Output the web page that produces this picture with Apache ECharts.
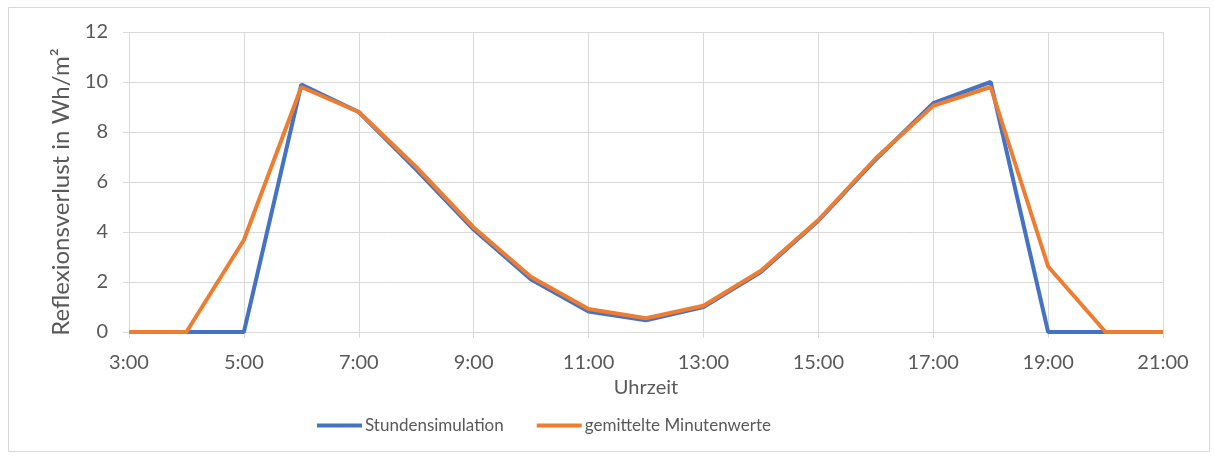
<!DOCTYPE html>
<html><head><meta charset="utf-8">
<script src="https://cdn.jsdelivr.net/npm/echarts@6/dist/echarts.min.js"></script>
<style>html,body{margin:0;padding:0;background:#fff}#c{width:1214px;height:457px}</style>
</head><body><div id="c"></div>
<script>
const hours = ['3:00','4:00','5:00','6:00','7:00','8:00','9:00','10:00','11:00','12:00','13:00','14:00','15:00','16:00','17:00','18:00','19:00','20:00','21:00'];
const stundensimulation = [0,0,0,9.9,8.8,6.5,4.1,2.1,0.82,0.47,1.0,2.4,4.45,6.9,9.15,10.0,0,0,0];
const minutenwerte = [0,0,3.68,9.8,8.8,6.6,4.18,2.2,0.92,0.55,1.05,2.45,4.48,6.95,9.05,9.8,2.62,0,0];
const yTicks = [0,2,4,6,8,10,12];

const font = 'Lato, "Open Sans", sans-serif';
const chart = echarts.init(document.getElementById('c'), null, {renderer:'canvas'});
chart.setOption({
  animation:false,
  backgroundColor:'#fff',
  graphic:[{type:'rect',shape:{x:8.5,y:7.5,width:1201,height:444},style:{fill:'none',stroke:'#d9d9d9',lineWidth:1},silent:true}],
  grid:{left:129,right:51,top:32,bottom:125,containLabel:false},
  legend:{
    top:412,left:312,itemWidth:45,itemHeight:4,itemGap:33,
    icon:'rect',
    textStyle:{fontFamily:font,fontSize:17,color:'#595959',padding:[0,0,0,-2]},
    data:['Stundensimulation','gemittelte Minutenwerte']
  },
  xAxis:{
    type:'category',data:hours,boundaryGap:false,
    name:'Uhrzeit',nameLocation:'middle',nameGap:40,
    nameTextStyle:{fontFamily:font,fontSize:20,color:'#595959'},
    axisLine:{lineStyle:{color:'#d9d9d9',width:1}},
    axisTick:{show:true,interval:1,length:6,lineStyle:{color:'#d9d9d9'}},
    axisLabel:{interval:1,fontFamily:font,fontSize:20,color:'#595959',margin:21},
    splitLine:{show:true,interval:1,lineStyle:{color:'#d9d9d9',width:1}}
  },
  yAxis:{
    type:'value',min:yTicks[0],max:yTicks[yTicks.length-1],interval:2,
    name:'Reflexionsverlust in Wh/m²',nameLocation:'middle',nameGap:56,
    nameTextStyle:{fontFamily:font,fontSize:24,color:'#595959',padding:[0,20,0,0]},
    axisLine:{show:false},
    axisTick:{show:true,length:6,lineStyle:{color:'#d9d9d9'}},
    axisLabel:{fontFamily:font,fontSize:20,color:'#595959',margin:21},
    splitLine:{lineStyle:{color:'#d9d9d9',width:1}}
  },
  series:[
    {name:'Stundensimulation',type:'line',data:stundensimulation,symbol:'none',
     lineStyle:{color:'#4472C4',width:4},itemStyle:{color:'#4472C4'},z:2},
    {name:'gemittelte Minutenwerte',type:'line',data:minutenwerte,symbol:'none',
     lineStyle:{color:'#ED7D31',width:4},itemStyle:{color:'#ED7D31'},z:3}
  ]
});
</script></body></html>
